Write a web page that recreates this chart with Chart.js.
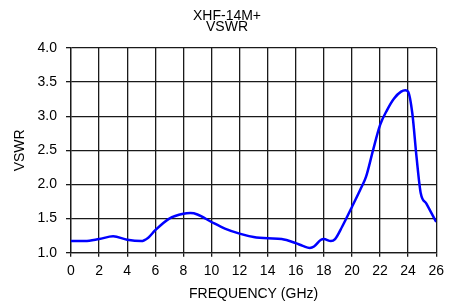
<!DOCTYPE html>
<html>
<head>
<meta charset="utf-8">
<script src="https://cdn.jsdelivr.net/npm/chart.js@4"></script>
<style>
	html, body { margin: 0; padding: 0; background: #fff; }
	#wrap { width: 450px; height: 303px; }
</style>
</head>
<body>
<div id="wrap"><canvas id="vswr-chart"></canvas></div>
<script>
// 周波数 (GHz) と VSWR の読み取り値
const freqGHz = [0, 1, 2, 3, 4, 5, 5.5, 6, 7, 8, 8.5, 9, 10, 11, 12, 13, 14, 15, 16, 16.5, 17, 17.3, 17.8, 18, 18.5, 18.8, 19.3, 20, 20.7, 21, 21.5, 22, 22.5, 23, 23.5, 23.8, 24, 24.3, 24.6, 24.9, 25.3, 26];
const vswrValues = [1.17, 1.17, 1.20, 1.24, 1.19, 1.17, 1.22, 1.33, 1.50, 1.57, 1.58, 1.56, 1.45, 1.35, 1.28, 1.23, 1.21, 1.20, 1.14, 1.10, 1.07, 1.09, 1.19, 1.20, 1.17, 1.20, 1.38, 1.67, 1.97, 2.11, 2.50, 2.87, 3.09, 3.26, 3.36, 3.38, 3.36, 3.04, 2.40, 1.87, 1.72, 1.45];
const titleLines = ["XHF-14M+", "VSWR"];
const xTitle = "FREQUENCY (GHz)";
const yTitle = "VSWR";

const FONT = "'Liberation Sans', Arial, sans-serif";
const GRID = "#1a1a1a";

const points = freqGHz.map((f, i) => ({ x: f, y: vswrValues[i] }));

// タイトルは元図に合わせて少し右寄せで描く
const titlePlugin = {
	id: "vswrTitle",
	afterDraw(chart) {
		const ctx = chart.ctx;
		ctx.save();
		ctx.fillStyle = "#000";
		ctx.font = `14px ${FONT}`;
		ctx.textAlign = "center";
		ctx.textBaseline = "middle";
		titleLines.forEach((line, i) => {
			ctx.fillText(line, 227, 16 + i * 11);
		});
		ctx.restore();
	},
};

new Chart(document.getElementById("vswr-chart"), {
	type: "line",
	data: {
		datasets: [
			{
				data: points,
				borderColor: "#0000ff",
				borderWidth: 2.5,
				pointRadius: 0,
				cubicInterpolationMode: "monotone",
				fill: false,
			},
		],
	},
	plugins: [titlePlugin],
	options: {
		responsive: true,
		maintainAspectRatio: false,
		animation: false,
		layout: { padding: { left: 0, right: 9, top: 48, bottom: 0 } },
		plugins: {
			legend: { display: false },
			tooltip: { enabled: false },
		},
		scales: {
			x: {
				type: "linear",
				min: 0,
				max: 26,
				afterFit: (s) => { s.height = 50.3; },
				ticks: {
					stepSize: 2,
					color: "#000",
					font: { family: FONT, size: 14 },
					padding: 6,
					maxRotation: 0,
				},
				grid: { color: GRID, lineWidth: 1.3, tickLength: 4 },
				border: { color: GRID, width: 1.3 },
				title: {
					display: true,
					text: xTitle,
					color: "#000",
					font: { family: FONT, size: 14 },
					padding: { top: 0, bottom: 0 },
				},
			},
			y: {
				min: 1.0,
				max: 4.0,
				afterFit: (s) => { s.width = 71; },
				ticks: {
					stepSize: 0.5,
					color: "#000",
					font: { family: FONT, size: 14 },
					padding: 9,
					callback: (v) => v.toFixed(1),
				},
				grid: { color: GRID, lineWidth: 1.3, tickLength: 5 },
				border: { color: GRID, width: 1.3 },
				title: {
					display: true,
					text: yTitle,
					color: "#000",
					font: { family: FONT, size: 14 },
					padding: { top: 11.5, bottom: 0 },
				},
			},
		},
	},
});
</script>
</body>
</html>
